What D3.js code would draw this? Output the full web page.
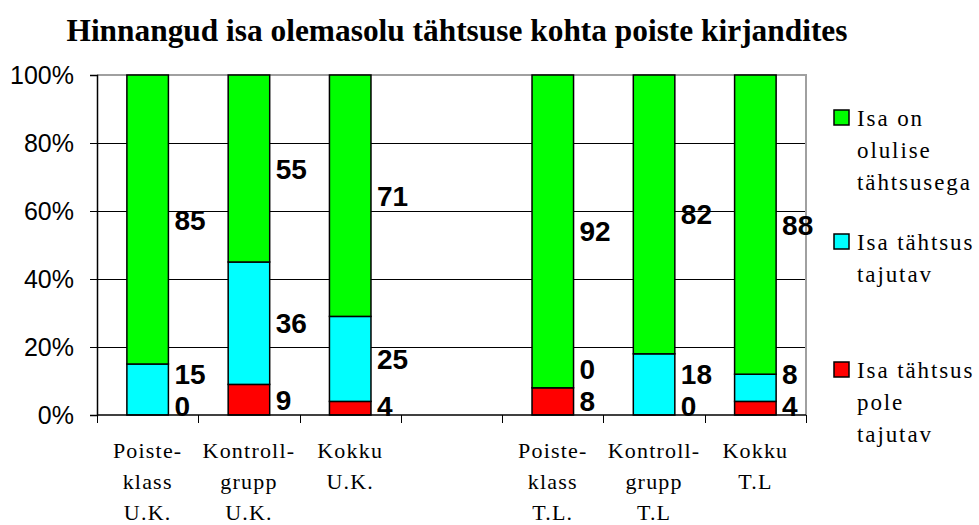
<!DOCTYPE html>
<html>
<head>
<meta charset="utf-8">
<script src="https://cdn.jsdelivr.net/npm/d3@7"></script>
<style>
  body { margin: 0; background: #fff; }
</style>
</head>
<body>
<div id="chart"></div>
<script>
// Andmed
const kategooriad = [
  ["Poiste-", "klass", "U.K."],
  ["Kontroll-", "grupp", "U.K."],
  ["Kokku", "U.K."],
  [],
  ["Poiste-", "klass", "T.L."],
  ["Kontroll-", "grupp", "T.L"],
  ["Kokku", "T.L"]
];
const polePunktid   = [0, 9, 4, null, 8, 0, 4];     // Isa tähtsus pole tajutav
const tajutavPunktid = [15, 36, 25, null, 0, 18, 8]; // Isa tähtsus tajutav
const olulinePunktid = [85, 55, 71, null, 92, 82, 88]; // Isa on olulise tähtsusega
const legendiRead = [["Isa on", "olulise", "tähtsusega"], ["Isa tähtsus", "tajutav"], ["Isa tähtsus", "pole", "tajutav"]];
const yTicks = [0, 20, 40, 60, 80, 100];

const varvid = ["#ff0000", "#00ffff", "#00ff00"];

const width = 979, height = 525;
const margin = { left: 97, right: 173, top: 75, bottom: 110 };

const svg = d3.select("#chart").append("svg")
  .attr("width", width)
  .attr("height", height);

const x = d3.scaleBand()
  .domain(d3.range(kategooriad.length))
  .range([margin.left, width - margin.right])
  .padding(0);

const y = d3.scaleLinear()
  .domain([0, 100])
  .range([height - margin.bottom, margin.top]);

const barW = x.bandwidth() * 0.41;

// Tabel stack jaoks
const tabel = kategooriad.map((k, i) => ({
  i: i,
  v0: polePunktid[i],
  v1: tajutavPunktid[i],
  v2: olulinePunktid[i]
})).filter(d => d.v0 !== null);

const stack = d3.stack().keys(["v0", "v1", "v2"]);
const kihid = stack(tabel);

// Ruudustik
svg.append("g")
  .selectAll("line")
  .data(yTicks.filter(t => t > 0 && t < 100))
  .enter()
  .append("line")
  .attr("x1", margin.left)
  .attr("x2", width - margin.right)
  .attr("y1", d => Math.round(y(d)) + 0.5)
  .attr("y2", d => Math.round(y(d)) + 0.5)
  .style("stroke", "#000")
  .style("stroke-width", 1);

// Ülemine ja parem ääris
svg.append("path")
  .attr("d", `M${margin.left},${y(100)}H${width - margin.right}V${y(0)}`)
  .style("fill", "none")
  .style("stroke", "#a0a0a0")
  .style("stroke-width", 2);

// Tulbad
kihid.forEach((kiht, s) => {
  svg.append("g")
    .selectAll("rect")
    .data(kiht)
    .enter()
    .append("rect")
    .attr("x", d => x(d.data.i) + (x.bandwidth() - barW) / 2)
    .attr("width", barW)
    .attr("y", d => y(d[1]))
    .attr("height", d => y(d[0]) - y(d[1]))
    .style("fill", varvid[s])
    .style("stroke", "#000")
    .style("stroke-width", 1.5);
});

// Teljed
const yAxis = d3.axisLeft(y).tickValues(yTicks).tickSize(7).tickFormat(d => d + "%");
const gy = svg.append("g")
  .attr("transform", `translate(${margin.left},0)`)
  .call(yAxis);
gy.select(".domain").style("stroke", "#000").style("stroke-width", 1.5);
gy.selectAll(".tick line").style("stroke", "#000").attr("shape-rendering", "crispEdges");
gy.selectAll(".tick text")
  .attr("x", -23)
  .style("font-family", "Arial, 'Liberation Sans', sans-serif")
  .style("font-size", "25px")
  .style("fill", "#000");

// x-telg: jaotised kategooriate vahel
svg.append("line")
  .attr("x1", margin.left).attr("x2", width - margin.right)
  .attr("y1", y(0)).attr("y2", y(0))
  .style("stroke", "#000").style("stroke-width", 1.5);

svg.append("g")
  .selectAll("line")
  .data(d3.range(kategooriad.length + 1))
  .enter()
  .append("line")
  .attr("x1", d => Math.round(margin.left + d * x.step()) + 0.5)
  .attr("x2", d => Math.round(margin.left + d * x.step()) + 0.5)
  .attr("y1", y(0))
  .attr("y2", y(0) + 8)
  .style("stroke", "#000");

// Kategooriate nimed
kategooriad.forEach((read, i) => {
  const t = svg.append("text")
    .attr("x", x(i) + x.bandwidth() / 2)
    .attr("y", y(0) + 43)
    .attr("text-anchor", "middle")
    .style("font-family", "'Times New Roman', 'Liberation Serif', serif")
    .style("font-size", "22px")
    .style("letter-spacing", "1.2px")
    .style("fill", "#000");
  read.forEach((r, j) => {
    t.append("tspan")
      .attr("x", x(i) + x.bandwidth() / 2)
      .attr("dy", j === 0 ? 0 : 31)
      .text(r);
  });
});

// Väärtuste sildid: segmendi keskel, alt üles nihutatud kui ei mahu
const vahe = 32;
tabel.forEach(d => {
  let eelmine = null;
  let alus = 0;
  [d.v0, d.v1, d.v2].forEach((v, s) => {
    let cy = y(alus + v / 2);
    if (eelmine === null) cy = Math.min(cy, y(0) - 9);
    else cy = Math.min(cy, eelmine - vahe);
    eelmine = cy;
    alus += v;
    svg.append("text")
      .attr("x", x(d.i) + (x.bandwidth() + barW) / 2 + 6)
      .attr("y", cy)
      .attr("dy", "0.36em")
      .style("font-family", "Arial, 'Liberation Sans', sans-serif")
      .style("font-weight", "bold")
      .style("font-size", "28px")
      .style("fill", "#000")
      .text(v);
  });
});

// Pealkiri
svg.append("text")
  .attr("x", 457)
  .attr("y", 41)
  .attr("text-anchor", "middle")
  .attr("textLength", 781)
  .attr("lengthAdjust", "spacingAndGlyphs")
  .style("font-family", "'Times New Roman', 'Liberation Serif', serif")
  .style("font-weight", "bold")
  .style("font-size", "31px")
  .style("fill", "#000")
  .text("Hinnangud isa olemasolu tähtsuse kohta poiste kirjandites");

// Legend (ülevalt alla: oluline, tajutav, pole)
const legendY = [126, 250, 378];
const legendVarvid = [varvid[2], varvid[1], varvid[0]];
const legend = svg.append("g");
legendiRead.forEach((read, k) => {
  legend.append("rect")
    .attr("x", 834)
    .attr("y", legendY[k] - 16)
    .attr("width", 15)
    .attr("height", 15)
    .style("fill", legendVarvid[k])
    .style("stroke", "#000")
    .style("stroke-width", 1.5);
  const t = legend.append("text")
    .attr("x", 857)
    .attr("y", legendY[k])
    .style("font-family", "'Times New Roman', 'Liberation Serif', serif")
    .style("font-size", "23px")
    .style("letter-spacing", "1.9px")
    .style("fill", "#000");
  read.forEach((r, j) => {
    t.append("tspan")
      .attr("x", 857)
      .attr("dy", j === 0 ? 0 : 32)
      .text(r);
  });
});
</script>
</body>
</html>
